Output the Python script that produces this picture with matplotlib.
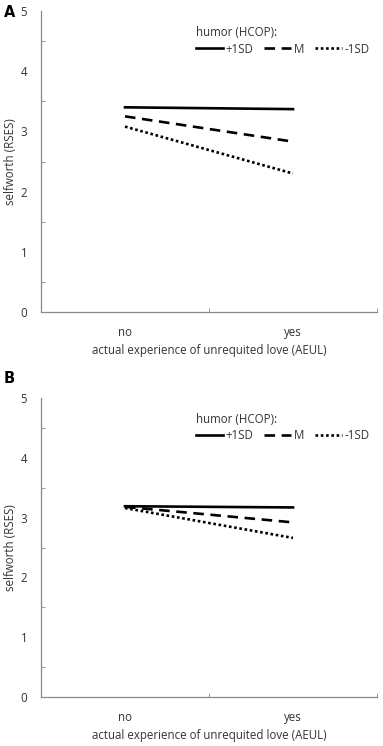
import matplotlib.pyplot as plt

# data
categories = ["no", "yes"]
series_names = ["+1SD", "M", "-1SD"]
panel_a = {"+1SD": [3.40, 3.37], "M": [3.25, 2.83], "-1SD": [3.08, 2.30]}
panel_b = {"+1SD": [3.19, 3.17], "M": [3.18, 2.92], "-1SD": [3.16, 2.66]}

styles = {"+1SD": dict(linestyle="-"),
          "M": dict(linestyle=(0, (4, 2.5))),
          "-1SD": dict(linestyle=(0, (1, 1)))}

plt.rcParams["font.family"] = ["Open Sans", "DejaVu Sans"]
TXT = "#333333"
FS = 8.3

fig = plt.figure(figsize=(3.83, 7.46), dpi=100)
ax_a = fig.add_axes([41/383, 1 - 312/746, 336/383, 301/746])
ax_b = fig.add_axes([41/383, 1 - 697/746, 336/383, 299/746])


def draw(ax, data, letter, letter_y):
    xs = [0.5, 1.5]
    for name in series_names:
        ax.plot(xs, data[name], color="black", lw=1.9, label=name, **styles[name])
    ax.set_xlim(0, 2)
    ax.set_ylim(0, 5)
    ax.set_yticks([0, 1, 2, 3, 4, 5])
    ax.set_yticks([0.5, 1.5, 2.5, 3.5, 4.5], minor=True)
    ax.tick_params(axis="y", which="major", length=0, labelsize=FS,
                   labelcolor=TXT, pad=10)
    ax.tick_params(axis="y", which="minor", direction="in", length=3,
                   color="#888888")
    ax.set_xticks(xs)
    ax.set_xticklabels(categories)
    ax.set_xticks([0, 1, 2], minor=True)
    ax.tick_params(axis="x", which="major", length=0, labelsize=FS,
                   labelcolor=TXT, pad=10)
    ax.tick_params(axis="x", which="minor", direction="in", length=3,
                   color="#888888")
    for s in ["top", "right"]:
        ax.spines[s].set_visible(False)
    for s in ["left", "bottom"]:
        ax.spines[s].set_color("#888888")
        ax.spines[s].set_linewidth(0.9)
    ax.set_ylabel("selfworth (RSES)", fontsize=FS, color=TXT, va="center")
    ax.yaxis.set_label_coords(-0.092, 0.5)
    ax.set_xlabel("actual experience of unrequited love (AEUL)", fontsize=FS,
                  color=TXT, labelpad=4)
    leg = ax.legend(title="humor (HCOP):", ncol=3, frameon=False,
                    fontsize=FS, title_fontsize=FS, alignment="left",
                    loc="upper left", bbox_to_anchor=(0.46, 0.95),
                    handlelength=2.4, handletextpad=0.2, columnspacing=0.9,
                    borderaxespad=0, borderpad=0, labelspacing=0.3)
    for t in leg.get_texts():
        t.set_color(TXT)
    leg.get_title().set_color(TXT)
    ax.text(-0.11, letter_y, letter, transform=ax.transAxes, fontsize=10.5,
            fontweight="bold", ha="left", va="center", family="DejaVu Sans")


draw(ax_a, panel_a, "A", 0.995)
draw(ax_b, panel_b, "B", 1.065)

fig.savefig("out.png", dpi=100)
